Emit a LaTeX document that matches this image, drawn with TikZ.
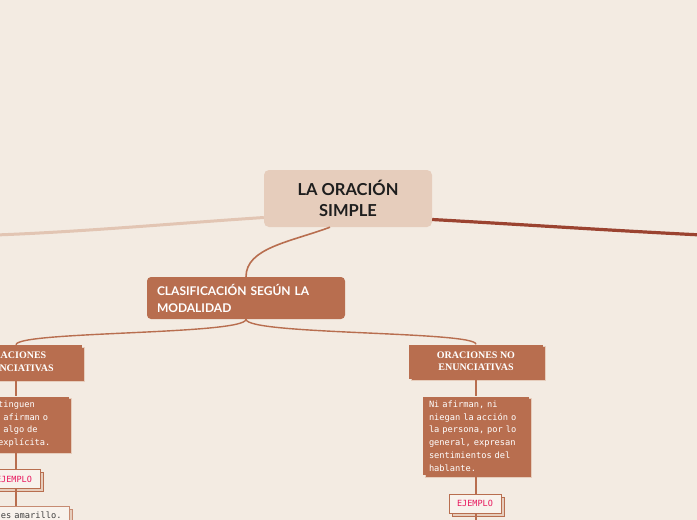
\documentclass[tikz,border=0pt]{standalone}
\usepackage{fontspec}
\setmainfont{Liberation Serif}
\setsansfont{Lato}
\setmonofont{DejaVu Sans Mono}
\usetikzlibrary{positioning,shadows,calc}
\definecolor{mmbg}{HTML}{F3EBE2}
\definecolor{mmsand}{HTML}{E6CDBC}
\definecolor{mmclay}{HTML}{B86E4F}
\definecolor{mmrust}{HTML}{9B4330}
\definecolor{mmpink}{HTML}{E8175D}
\definecolor{mmink}{HTML}{1E1E1E}
\definecolor{mmpaper}{HTML}{F8F2EC}

\begin{document}
\begin{tikzpicture}[x=1pt,y=-1pt,
  link/.style={draw=mmclay,line width=1.4pt},
  topicbox/.style={fill=mmclay,text=white,font=\rmfamily\bfseries\fontsize{10}{12.5}\selectfont,align=center,
    minimum height=34pt,inner sep=0pt,
    copy shadow={shadow xshift=2pt,shadow yshift=-2pt,fill=mmclay,draw=mmsand,line width=0.6pt}},
  descbox/.style={fill=mmclay,text=white,font=\ttfamily\fontsize{8.7}{12.8}\selectfont,align=left,
    text width=94pt,inner xsep=6pt,inner ysep=4pt,
    copy shadow={shadow xshift=2pt,shadow yshift=-2pt,fill=mmclay,draw=mmsand,line width=0.6pt}},
  tagbox/.style={fill=mmpaper,draw=mmclay,line width=0.9pt,text=mmpink,font=\ttfamily\fontsize{8.5}{10}\selectfont,
    minimum width=52pt,minimum height=19pt,inner sep=0pt,
    copy shadow={shadow xshift=3pt,shadow yshift=-3pt,fill=mmsand,draw=mmclay,line width=0.9pt}},
  samplebox/.style={fill=mmpaper,draw=mmclay!80,line width=0.8pt,text=mmink!85,font=\ttfamily\fontsize{8.7}{12.8}\selectfont,align=left,
    text width=94pt,inner xsep=6pt,minimum height=18pt,
    copy shadow={shadow xshift=3pt,shadow yshift=-3pt,fill=mmsand,draw=mmclay!80,line width=0.8pt}}]
  \useasboundingbox (0,0) rectangle (697,520);
  \clip (0,0) rectangle (697,520);
  \fill[mmbg] (0,0) rectangle (697,520);

  % main topic and its two side branches
  \node[fill=mmsand,rounded corners=5pt,minimum width=168pt,minimum height=57pt,align=center,
    text=mmink,font=\sffamily\bfseries\fontsize{16.5}{21}\selectfont] (root) at (348,198.5) {LA ORACIÓN\\SIMPLE};
  \coordinate (leftend) at (-5,235);
  \coordinate (rightend) at (702,235);
  \draw[draw=mmsand!92!mmclay,line width=3pt] ([yshift=-19pt]root.west) .. controls (180,223) and (80,232) .. (leftend);
  \draw[draw=mmrust,line width=3.2pt] ([yshift=-21pt]root.east) .. controls (530,225) and (620,231) .. (rightend);

  \node[fill=mmclay,rounded corners=4pt,text=white,font=\sffamily\bfseries\fontsize{12}{17}\selectfont,
    align=left,text width=178pt,inner xsep=10pt,minimum height=42pt] (clas) at (246,298)
    {CLASIFICACIÓN SEGÚN LA\\MODALIDAD};
  \draw[link,line width=1.6pt] ([xshift=-18pt]root.south) .. controls (290,242) and (246,248) .. (clas.north);

  \node[topicbox,minimum width=132pt] (enun) at (16,362) {ORACIONES\\ENUNCIATIVAS};
  \node[topicbox,minimum width=134pt] (nenun) at (476,361.5) {ORACIONES NO\\ENUNCIATIVAS};
  \draw[link] (clas.south) .. controls (246,335) and (16,331) .. (enun.north);
  \draw[link] (clas.south) .. controls (246,335) and (476,331) .. (nenun.north);

  % left branch
  \node[descbox] (edesc) at (16,424) {Se distinguen\\porque afirman o\\niegan algo de\\forma explícita.};
  \node[tagbox] (eejem) at (14,479) {EJEMPLO};
  \node[samplebox] (esample) at (16,515) {El sol es amarillo.};
  \draw[link] (enun.south) -- (edesc.north);
  \draw[link] (edesc.south) -- (edesc.south |- eejem.north);
  \draw[link] (edesc.south |- eejem.south) -- (esample.north);

  % right branch
  \node[descbox] (ndesc) at (476,436) {Ni afirman, ni\\niegan la acción o\\la persona, por lo\\general, expresan\\sentimientos del\\hablante.};
  \node[tagbox] (nejem) at (475,503.5) {EJEMPLO};
  \coordinate (nrest) at (476,530);
  \draw[link] (nenun.south) -- (ndesc.north);
  \draw[link] (ndesc.south) -- (ndesc.south |- nejem.north);
  \draw[link] (ndesc.south |- nejem.south) -- (nrest);
\end{tikzpicture}
\end{document}
